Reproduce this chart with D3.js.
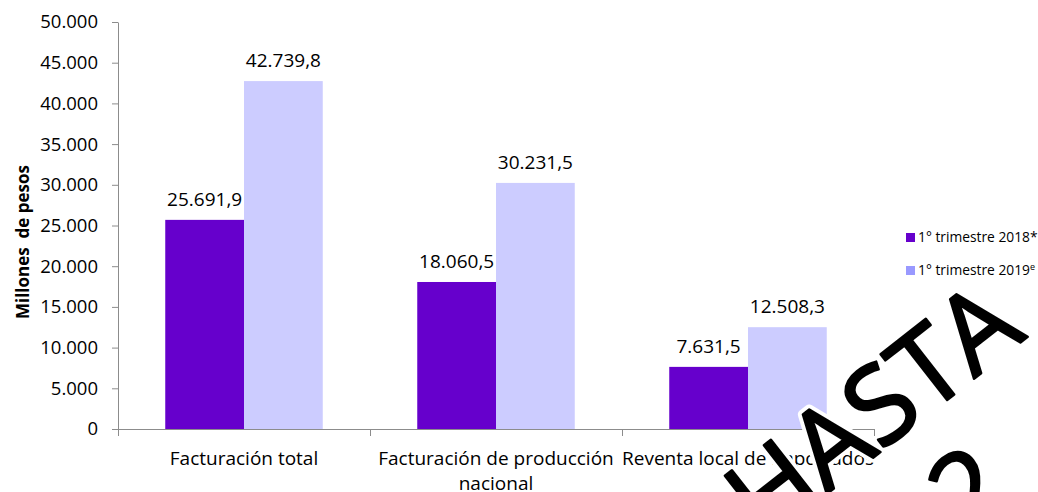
<!DOCTYPE html>
<html>
<head>
<meta charset="utf-8">
<script src="https://cdn.jsdelivr.net/npm/d3@7"></script>
<style>
  body { margin: 0; background: #fff; }
  text { font-family: "Open Sans", "Noto Sans", sans-serif; fill: #000; }
</style>
</head>
<body>
<script>
// Chart data
var categories = ["Facturación total", "Facturación de producción nacional", "Reventa local de importados"];
var categoryLines = [["Facturación total"], ["Facturación de producción", "nacional"], ["Reventa local de importados"]];
var seriesNames = ["1° trimestre 2018*", "1° trimestre 2019"];
var seriesSup = ["", "e"];
var values2018 = [25691.9, 18060.5, 7631.5];
var values2019 = [42739.8, 30231.5, 12508.3];
var yTicks = [0, 5000, 10000, 15000, 20000, 25000, 30000, 35000, 40000, 45000, 50000];

var svgWidth = 1038;
var svgHeight = 492;
var margin = { top: 22, right: 164, bottom: 63, left: 118 };
var width = svgWidth - margin.left - margin.right;
var height = svgHeight - margin.top - margin.bottom;

var barColors = ["#6600cc", "#ccccff"];
var legendColors = ["#6600cc", "#9999ff"];
var axisColor = "#8c8c8c";

var locale = d3.formatLocale({ decimal: ",", thousands: ".", grouping: [3], currency: ["", ""] });
var fmtTick = locale.format(",.0f");
var fmtLabel = locale.format(",.1f");

var svg = d3.select("body")
  .append("svg")
  .attr("width", svgWidth)
  .attr("height", svgHeight);

var chartGroup = svg.append("g")
  .attr("transform", `translate(${margin.left}, ${margin.top})`);

// Scales
var x0 = d3.scaleBand()
  .domain(categories)
  .range([0, width])
  .padding(0);

var x1 = d3.scaleBand()
  .domain(seriesNames)
  .range([0, x0.bandwidth()])
  .paddingInner(0)
  .paddingOuter(0.6);

var y = d3.scaleLinear()
  .domain([0, 50000])
  .range([height, 0]);

// Y axis
var leftAxis = d3.axisLeft(y)
  .tickValues(yTicks)
  .tickFormat(fmtTick)
  .tickSize(6)
  .tickSizeOuter(0)
  .tickPadding(14);

var yAxisG = chartGroup.append("g").call(leftAxis);
yAxisG.select(".domain").attr("stroke", axisColor);
yAxisG.selectAll(".tick line").attr("stroke", axisColor);
yAxisG.selectAll(".tick text")
  .attr("font-family", "Open Sans")
  .attr("font-size", 18.5)
  .attr("fill", "#000");

// Bars
var rows = categories.map(function(c, i) {
  return { cat: c, vals: [values2018[i], values2019[i]] };
});

var groups = chartGroup.selectAll(".grp")
  .data(rows)
  .enter()
  .append("g")
  .attr("class", "grp")
  .attr("transform", d => `translate(${x0(d.cat)},0)`);

groups.selectAll("rect")
  .data(d => d.vals.map((v, k) => ({ name: seriesNames[k], v: v, k: k })))
  .enter()
  .append("rect")
  .attr("x", d => x1(d.name))
  .attr("y", d => y(d.v))
  .attr("width", x1.bandwidth())
  .attr("height", d => height - y(d.v))
  .attr("fill", d => barColors[d.k]);

groups.selectAll(".lbl")
  .data(d => d.vals.map((v, k) => ({ name: seriesNames[k], v: v, k: k })))
  .enter()
  .append("text")
  .attr("class", "lbl")
  .attr("x", d => x1(d.name) + x1.bandwidth() / 2)
  .attr("y", d => y(d.v) - 14)
  .attr("text-anchor", "middle")
  .attr("font-size", 19)
  .text(d => fmtLabel(d.v));

// X axis (category boundaries)
var xAxisG = chartGroup.append("g").attr("transform", `translate(0,${height})`);
xAxisG.append("line")
  .attr("x1", 0).attr("x2", width)
  .attr("y1", 0.5).attr("y2", 0.5)
  .attr("stroke", axisColor);
var bounds = categories.map(c => x0(c)).concat([width]);
xAxisG.selectAll(".xt")
  .data(bounds)
  .enter()
  .append("line")
  .attr("x1", d => d + 0.5).attr("x2", d => d + 0.5)
  .attr("y1", 0).attr("y2", 7)
  .attr("stroke", axisColor);

xAxisG.selectAll(".xl")
  .data(categories)
  .enter()
  .append("text")
  .attr("text-anchor", "middle")
  .attr("font-size", 19)
  .each(function(c, i) {
    var t = d3.select(this);
    categoryLines[i].forEach(function(line, j) {
      t.append("tspan")
        .attr("x", x0(c) + x0.bandwidth() / 2)
        .attr("y", 36 + j * 25)
        .text(line);
    });
  });

// Y axis title
svg.append("text")
  .attr("transform", "translate(29,242) rotate(-90)")
  .attr("text-anchor", "middle")
  .attr("font-size", 17)
  .attr("font-weight", "bold")
  .style("white-space", "pre")
  .text("Millones  de pesos");

// Legend
var legend = svg.append("g").attr("transform", "translate(906,233)");
seriesNames.forEach(function(name, k) {
  var g = legend.append("g").attr("transform", `translate(0,${k * 33})`);
  g.append("rect")
    .attr("width", 9).attr("height", 9)
    .attr("fill", legendColors[k]);
  var t = g.append("text")
    .attr("x", 12)
    .attr("y", 9)
    .attr("font-size", 13.8)
    .text(name);
  if (seriesSup[k]) {
    t.append("tspan")
      .attr("font-size", 9)
      .attr("dy", -5)
      .text(seriesSup[k]);
  }
});

// Watermark stamped over the chart: white halo first, then black letters
var wmLines = [{ txt: "HASTA", x: 0, y: 0 }, { txt: "2", x: 163, y: 121 }];
var wm = svg.append("g")
  .attr("transform", "translate(764,543) rotate(-38)");
[{ stroke: "#fff", w: 10 }, { stroke: "#000", w: 2.5 }].forEach(function(pass) {
  wm.selectAll(null)
    .data(wmLines)
    .enter()
    .append("text")
    .attr("x", d => d.x).attr("y", d => d.y)
    .attr("font-family", "Liberation Sans")
    .attr("font-size", 108)
    .attr("fill", "#000")
    .attr("stroke", pass.stroke)
    .attr("stroke-width", pass.w)
    .attr("stroke-linejoin", "round")
    .text(d => d.txt);
});
</script>
</body>
</html>
